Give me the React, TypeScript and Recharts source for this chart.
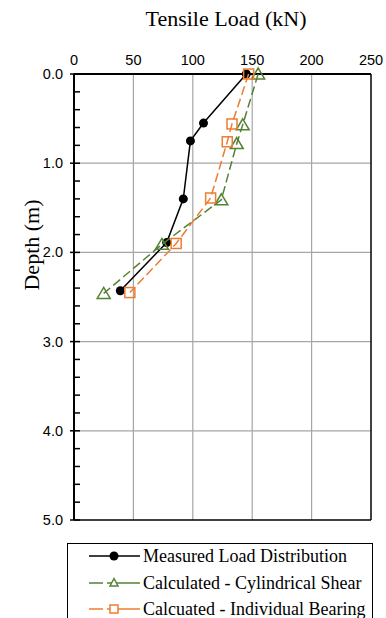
import { ScatterChart, Scatter, XAxis, YAxis, CartesianGrid, ReferenceLine } from 'recharts';

// depth (m) and load (kN)
const measuredDepth = [0, 0.55, 0.75, 1.4, 1.89, 2.43];
const measuredLoad = [145, 109, 98, 92, 78, 39];

const shearDepth = [0, 0.57, 0.78, 1.41, 1.91, 2.46];
const shearLoad = [155, 142, 137, 124, 74, 25];

const bearingDepth = [0, 0.56, 0.76, 1.39, 1.9, 2.45];
const bearingLoad = [147, 133, 129, 115, 86, 47];

const loadTicks = [0, 50, 100, 150, 200, 250];
const depthTicks = [0, 0.2, 0.4, 0.6, 0.8, 1, 1.2, 1.4, 1.6, 1.8, 2, 2.2, 2.4, 2.6, 2.8, 3, 3.2, 3.4, 3.6, 3.8, 4, 4.2, 4.4, 4.6, 4.8, 5];
const gridLoads = [50, 100, 150, 200];
const gridDepths = [1, 2, 3, 4];

const GREEN = '#548235';
const ORANGE = '#ED7D31';
const SERIF = '"Liberation Serif", "Times New Roman", serif';
const SANS = '"Liberation Sans", Arial, sans-serif';

const toPoints = (depths: number[], loads: number[]) =>
  depths.map((d, i) => ({ depth: d, load: loads[i] }));

const measured = toPoints(measuredDepth, measuredLoad);
const shear = toPoints(shearDepth, shearLoad);
const bearing = toPoints(bearingDepth, bearingLoad);

type ShapeProps = { cx?: number; cy?: number };

function Dot({ cx = 0, cy = 0 }: ShapeProps) {
  return <circle cx={cx} cy={cy} r={4.5} fill="#000" />;
}

function Tri({ cx = 0, cy = 0 }: ShapeProps) {
  return (
    <polygon
      points={`${cx},${cy - 6} ${cx + 6.5},${cy + 5} ${cx - 6.5},${cy + 5}`}
      fill="none"
      stroke={GREEN}
      strokeWidth={1.5}
    />
  );
}

function Sq({ cx = 0, cy = 0 }: ShapeProps) {
  return <rect x={cx - 5} y={cy - 5} width={10} height={10} fill="none" stroke={ORANGE} strokeWidth={1.5} />;
}

type TickProps = { x?: number; y?: number; payload?: { value: number } };

function DepthTick({ x = 0, y = 0, payload }: TickProps) {
  const v = payload?.value ?? 0;
  const major = Math.abs(v - Math.round(v)) < 1e-6;
  return (
    <g>
      <line x1={x + (major ? 7 : 11)} x2={x + 17} y1={y} y2={y} stroke="#000" strokeWidth={1.5} />
      {major && (
        <text x={x} y={y} dy="0.35em" textAnchor="end" fontFamily={SANS} fontSize={14.5} fill="#000">
          {v.toFixed(1)}
        </text>
      )}
    </g>
  );
}

function LegendRow({ top, label, color, dashed, marker }: {
  top: number; label: string; color: string; dashed: boolean; marker: 'dot' | 'tri' | 'sq';
}) {
  return (
    <div style={{ position: 'absolute', left: 0, top, width: '100%', height: 18 }}>
      <svg width={54} height={18} style={{ position: 'absolute', left: 20, top: 0 }}>
        <line x1={1} x2={52} y1={9} y2={9} stroke={color} strokeWidth={1.5}
          strokeDasharray={dashed ? '14 4 99 5 6 99' : undefined} />
        {marker === 'dot' && <Dot cx={26} cy={9} />}
        {marker === 'tri' && (
          <polygon points="26,4.5 30,12 22,12" fill="#fff" stroke={color} strokeWidth={1.5} />
        )}
        {marker === 'sq' && <rect x={22} y={5} width={8} height={8} fill="#fff" stroke={color} strokeWidth={1.5} />}
      </svg>
      <span style={{
        position: 'absolute', left: 75, top: -2, fontFamily: SERIF, fontSize: 18,
        lineHeight: '22px', whiteSpace: 'nowrap', color: '#000',
      }}>{label}</span>
    </div>
  );
}

export default function App() {
  return (
    <div style={{
      position: 'absolute', left: 0, top: 0, width: 386, height: 618,
      overflow: 'hidden', background: '#fff',
    }}>
      <div style={{
        position: 'absolute', left: 0, width: 386, top: 6, textAlign: 'center',
        paddingLeft: 66, boxSizing: 'border-box', fontFamily: SERIF, fontSize: 22, color: '#000',
      }}>
        Tensile Load (kN)
      </div>
      <div style={{
        position: 'absolute', left: 32, top: 245, width: 0, height: 0,
      }}>
        <div style={{
          position: 'absolute', left: -70, top: -13, width: 140, height: 26, textAlign: 'center',
          fontFamily: SERIF, fontSize: 22, lineHeight: '26px', color: '#000',
          transform: 'rotate(-90deg)', whiteSpace: 'nowrap',
        }}>
          Depth (m)
        </div>
      </div>

      <ScatterChart width={386} height={530} margin={{ top: 44, right: 15, bottom: 10, left: 34 }}>
        <CartesianGrid
          stroke="#A6A6A6"
          strokeWidth={1.2}
          horizontalValues={gridDepths}
          verticalValues={gridLoads}
        />
        <XAxis
          type="number"
          dataKey="load"
          orientation="top"
          domain={[0, 250]}
          ticks={loadTicks}
          height={30}
          tickLine={false}
          tickSize={6}
          tickMargin={3}
          axisLine={{ stroke: '#000', strokeWidth: 2 }}
          tick={{ fill: '#000', fontSize: 14.5, fontFamily: SANS }}
        />
        <YAxis
          type="number"
          dataKey="depth"
          reversed
          domain={[0, 5]}
          ticks={depthTicks}
          width={40}
          tickLine={false}
          tickSize={0}
          tickMargin={11}
          interval={0}
          axisLine={{ stroke: '#000', strokeWidth: 2 }}
          tick={<DepthTick />}
        />
        <ReferenceLine x={250} stroke="#000" strokeWidth={1.5} />
        <ReferenceLine y={5} stroke="#000" strokeWidth={1.5} />
        <Scatter
          data={measured}
          line={{ stroke: '#000', strokeWidth: 1.5 }}
          lineType="joint"
          shape={<Dot />}
          isAnimationActive={false}
        />
        <Scatter
          data={shear}
          line={{ stroke: GREEN, strokeWidth: 1.5, strokeDasharray: '9 4' }}
          lineType="joint"
          shape={<Tri />}
          isAnimationActive={false}
        />
        <Scatter
          data={bearing}
          line={{ stroke: ORANGE, strokeWidth: 1.5, strokeDasharray: '9 4' }}
          lineType="joint"
          shape={<Sq />}
          isAnimationActive={false}
        />
      </ScatterChart>

      <div style={{
        position: 'absolute', left: 67, top: 543, width: 306, height: 90,
        border: '1.5px solid #000', boxSizing: 'border-box',
      }}>
        <LegendRow top={3} label="Measured Load Distribution" color="#000" dashed={false} marker="dot" />
        <LegendRow top={30} label="Calculated - Cylindrical Shear" color={GREEN} dashed marker="tri" />
        <LegendRow top={56} label="Calcuated - Individual Bearing" color={ORANGE} dashed marker="sq" />
      </div>
    </div>
  );
}
